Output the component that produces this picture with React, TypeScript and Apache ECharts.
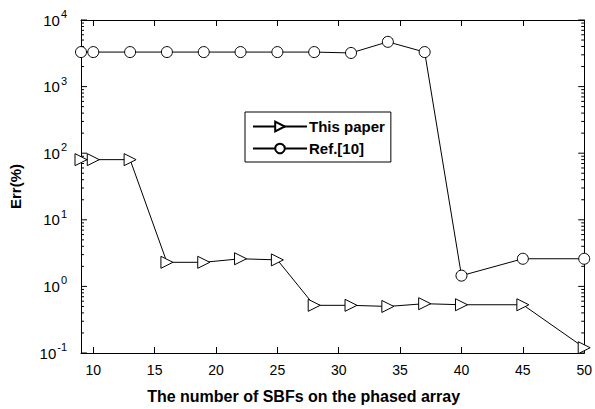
import React, { useEffect, useRef } from "react";
import * as echarts from "echarts";

const xValues = [9, 10, 13, 16, 19, 22, 25, 28, 31, 34, 37, 40, 45, 50];
const thisPaper = [80, 80, 80, 2.3, 2.3, 2.6, 2.5, 0.52, 0.52, 0.5, 0.55, 0.53, 0.53, 0.12];
const ref10 = [3300, 3300, 3300, 3300, 3300, 3300, 3300, 3300, 3200, 4700, 3300, 1.45, 2.6, 2.6];
const xTickValues = [10, 15, 20, 25, 30, 35, 40, 45, 50];
const yMajorValues = [0.1, 1, 10, 100, 1000, 10000];
const decadeExponents = [-1, 0, 1, 2, 3];
const minorMultiples = [2, 3, 4, 5, 6, 7, 8, 9];

const FONT = "'Liberation Sans', Arial, sans-serif";
const triRight = "path://M0,0 L10,5 L0,10 Z";

export default function App() {
  const ref = useRef<HTMLDivElement>(null);
  useEffect(() => {
    if (!ref.current) return;
    const chart = echarts.init(ref.current, null, { renderer: "svg" });
    const tickVals: number[][] = [];
    decadeExponents.forEach((e) =>
      minorMultiples.forEach((m) => tickVals.push([0, +(m * Math.pow(10, e)).toPrecision(6), 3]))
    );
    yMajorValues.forEach((v) => tickVals.push([0, v, 6]));
    const yLabel = (v: number) => {
      const e = Math.round(Math.log10(v));
      return `{b|10}{s|${e}}`;
    };
    const tick = { show: true, inside: true, length: 6, lineStyle: { color: "#000", width: 1 } };
    chart.setOption({
      animation: false,
      backgroundColor: "#fff",
      grid: { left: 77, right: 8, top: 20, bottom: 55, containLabel: false },
      legend: {
        data: ["This paper", "Ref.[10]"],
        orient: "vertical",
        left: 245,
        top: 112,
        width: 149,
        backgroundColor: "#fff",
        borderColor: "#000",
        borderWidth: 1,
        borderRadius: 0,
        padding: [7, 6, 6, 7],
        itemGap: 7,
        itemWidth: 54,
        itemHeight: 12,
        textStyle: { fontFamily: FONT, fontWeight: "bold", fontSize: 15, color: "#000", padding: [0, 0, 0, -3] },
      },
      xAxis: [
        {
          type: "value",
          min: 9,
          max: 50,
          name: "The number of SBFs on the phased array",
          nameLocation: "middle",
          nameGap: 35,
          nameTextStyle: { fontFamily: FONT, fontWeight: "bold", fontSize: 16, color: "#000", padding: [0, 58, 0, 0] },
          axisLine: { show: true, onZero: false, lineStyle: { color: "#000", width: 1 } },
          axisTick: { ...tick, customValues: xTickValues },
          axisLabel: { customValues: xTickValues, fontFamily: FONT, fontSize: 14, color: "#000", margin: 10 },
          splitLine: { show: false },
        },
        {
          type: "value",
          min: 9,
          max: 50,
          position: "top",
          axisLine: { show: true, onZero: false, lineStyle: { color: "#000", width: 1 } },
          axisTick: { ...tick, customValues: xTickValues },
          axisLabel: { show: false },
          splitLine: { show: false },
        },
      ],
      yAxis: [
        {
          type: "log",
          logBase: 10,
          min: 0.1,
          max: 10000,
          interval: 1,
          name: "Err(%)",
          nameLocation: "middle",
          nameGap: 58,
          nameRotate: 90,
          nameTextStyle: { fontFamily: FONT, fontWeight: "bold", fontSize: 15, color: "#000" },
          axisLine: { show: true, lineStyle: { color: "#000", width: 1 } },
          axisTick: { show: false },
          axisLabel: {
            formatter: yLabel,
            margin: 14,
            rich: {
              b: { fontFamily: FONT, fontSize: 15, color: "#000" },
              s: { fontFamily: FONT, fontSize: 11, color: "#000", verticalAlign: "top", padding: [0, 0, 12, 1] },
            },
          },
          splitLine: { show: false },
        },
        {
          type: "log",
          logBase: 10,
          min: 0.1,
          max: 10000,
          interval: 1,
          position: "right",
          axisLine: { show: true, lineStyle: { color: "#000", width: 1 } },
          axisTick: { show: false },
          axisLabel: { show: false },
          splitLine: { show: false },
        },
      ],
      series: [
        {
          name: "yTicks",
          type: "custom",
          coordinateSystem: "cartesian2d",
          silent: true,
          clip: false,
          data: tickVals,
          encode: { x: 0, y: 1 },
          renderItem: (params: any, api: any) => {
            const v = api.value(1);
            const len = api.value(2);
            const l = api.coord([9, v]);
            const r = api.coord([50, v]);
            return {
              type: "group",
              children: [
                { type: "line", shape: { x1: l[0], y1: l[1], x2: l[0] + len, y2: l[1] }, style: { stroke: "#000", lineWidth: 1 } },
                { type: "line", shape: { x1: r[0] - len, y1: r[1], x2: r[0], y2: r[1] }, style: { stroke: "#000", lineWidth: 1 } },
              ],
            };
          },
          z: 1,
        },
        {
          name: "This paper",
          type: "line",
          data: xValues.map((x, i) => [x, thisPaper[i]]),
          symbol: triRight,
          symbolSize: [12, 12],
          lineStyle: { color: "#000", width: 1 },
          itemStyle: { color: "#fff", borderColor: "#000", borderWidth: 1 },
          clip: false,
          z: 3,
        },
        {
          name: "Ref.[10]",
          type: "line",
          data: xValues.map((x, i) => [x, ref10[i]]),
          symbol: "circle",
          symbolSize: 11,
          lineStyle: { color: "#000", width: 1 },
          itemStyle: { color: "#fff", borderColor: "#000", borderWidth: 1 },
          clip: false,
          z: 3,
        },
      ],
    });
    return () => chart.dispose();
  }, []);
  return <div ref={ref} style={{ width: 595, height: 409, position: "absolute", left: 0, top: 0 }} />;
}
